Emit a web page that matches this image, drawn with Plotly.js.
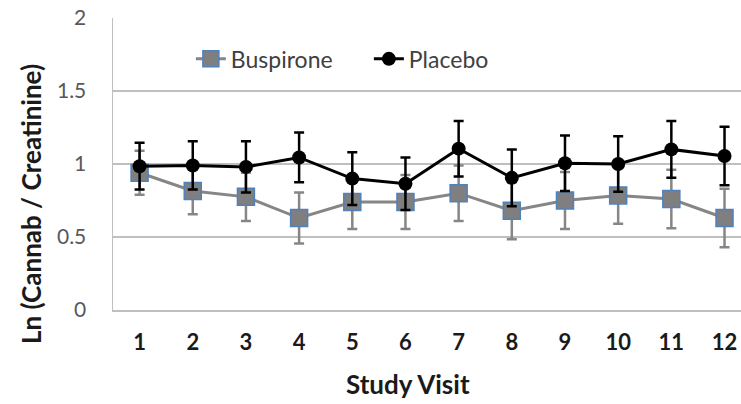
<!DOCTYPE html>
<html>
<head>
<meta charset="utf-8">
<script src="https://cdn.plot.ly/plotly-3.0.1.min.js"></script>
<style>html,body{margin:0;padding:0;background:#fff;overflow:hidden}</style>
</head>
<body>
<div id="chart" style="width:741px;height:404px"></div>
<script>
var visits = [1,2,3,4,5,6,7,8,9,10,11,12];
var buspirone = [0.94,0.815,0.775,0.63,0.74,0.74,0.80,0.68,0.75,0.785,0.76,0.63];
var buspironeErr = [0.15,0.16,0.165,0.175,0.185,0.185,0.19,0.195,0.195,0.195,0.2,0.2];
var placebo = [0.985,0.99,0.98,1.045,0.90,0.865,1.105,0.905,1.005,1.0,1.10,1.055];
var placeboErr = [0.16,0.165,0.175,0.17,0.18,0.18,0.19,0.195,0.19,0.19,0.195,0.2];
var yTicks = [0,0.5,1,1.5,2];
var yTickText = ['0','0.5','1','1.5','2'];
var seriesNames = ['Buspirone','Placebo'];
var xTitle = 'Study Visit';
var yTitle = 'Ln (Cannab / Creatinine)';

var traces = [
  {
    x: visits, y: buspirone, name: seriesNames[0], type: 'scatter', mode: 'lines+markers',
    line: {color: '#868686', width: 3},
    marker: {symbol: 'square', size: 17, color: '#7f7f7f', line: {color: '#4f81bd', width: 1.5}},
    error_y: {type: 'data', array: buspironeErr, visible: true, color: '#868686', thickness: 2.5, width: 5}
  },
  {
    x: visits, y: placebo, name: seriesNames[1], type: 'scatter', mode: 'lines+markers',
    line: {color: '#000000', width: 3},
    marker: {symbol: 'circle', size: 14, color: '#000000'},
    error_y: {type: 'data', array: placeboErr, visible: true, color: '#000000', thickness: 2.5, width: 5}
  }
];

var layout = {
  width: 741, height: 404,
  margin: {l: 113, r: 0, t: 18, b: 94, pad: 0},
  paper_bgcolor: '#ffffff', plot_bgcolor: '#ffffff',
  font: {family: 'Lato, "Open Sans", sans-serif', size: 16, color: '#595959'},
  showlegend: true,
  legend: {
    orientation: 'h', x: 0.124, y: 0.86, xanchor: 'left', yanchor: 'middle',
    bgcolor: 'rgba(255,255,255,0)', font: {size: 23, color: '#404040'},
    traceorder: 'normal', entrywidth: 133
  },
  xaxis: {
    range: [0.5, 12.31], tickvals: visits, ticktext: visits.map(String),
    showgrid: false, zeroline: false, showline: true, linecolor: '#bfbfbf', linewidth: 1.5,
    ticks: '', ticklabelstandoff: 12,
    tickfont: {size: 22, color: '#1a1a1a', weight: 'bold'}
  },
  yaxis: {
    range: [0, 2], tickvals: yTicks, ticktext: yTickText,
    showgrid: true, gridcolor: '#bfbfbf', gridwidth: 1.3, zeroline: false,
    showline: true, linecolor: '#bfbfbf', linewidth: 1.5,
    ticks: '', ticklabelstandoff: 21,
    tickfont: {size: 21, color: '#595959'}
  },
  annotations: [
    {
      text: yTitle, xref: 'paper', yref: 'paper', x: -0.1306, y: 0.363,
      xanchor: 'center', yanchor: 'middle', textangle: -90, showarrow: false,
      font: {size: 26, color: '#1a1a1a', weight: 'bold'}
    },
    {
      text: xTitle, xref: 'paper', yref: 'paper', x: 0.47, y: -0.253,
      xanchor: 'center', yanchor: 'middle', showarrow: false,
      font: {size: 26, color: '#1a1a1a', weight: 'bold'}
    }
  ]
};

Plotly.newPlot('chart', traces, layout, {displayModeBar: false, staticPlot: true});
</script>
</body>
</html>
